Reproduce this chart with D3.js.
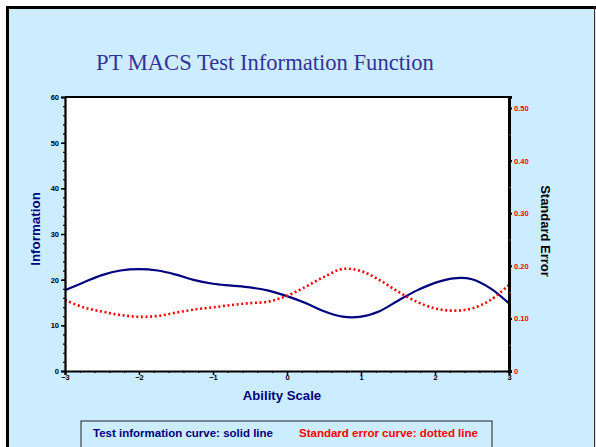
<!DOCTYPE html>
<html>
<head>
<meta charset="utf-8">
<script src="https://cdn.jsdelivr.net/npm/d3@7"></script>
<style>
  body { margin: 0; background: #fff; }
  svg { display: block; }
  text { font-family: "Liberation Sans", Arial, sans-serif; }
</style>
</head>
<body>
<svg id="chart" width="596" height="447"></svg>
<script>
const ability = [-3, -2.75, -2.5, -2.25, -2, -1.75, -1.5, -1.25, -1, -0.75, -0.5, -0.25,
  0, 0.25, 0.5, 0.75, 1, 1.25, 1.5, 1.75, 2, 2.25, 2.5, 2.75, 3];

// test information (left axis)
const information = [17.7, 19.4, 21.0, 22.0, 22.3, 22.0, 21.1, 19.9, 19.1, 18.7, 18.3, 17.6,
  16.4, 14.9, 13.1, 11.9, 11.9, 13.1, 15.4, 17.6, 19.3, 20.3, 20.1, 18.1, 14.8];

// standard error (right axis)
const stdError = [0.135, 0.121, 0.113, 0.1065, 0.103, 0.1045, 0.111, 0.117, 0.121, 0.1255, 0.129, 0.132,
  0.143, 0.160, 0.179, 0.194, 0.190, 0.173, 0.151, 0.132, 0.119, 0.1147, 0.119, 0.135, 0.1635];

const xTicks = [-3, -2, -1, 0, 1, 2, 3];
const infoTicks = [0, 10, 20, 30, 40, 50, 60];
const seTicks = [0, 0.1, 0.2, 0.3, 0.4, 0.5];

const svg = d3.select("#chart");

// slide background + frame
svg.append("rect").attr("x", 6).attr("y", 6).attr("width", 590).attr("height", 441).attr("fill", "#ccecff");
svg.append("line").attr("x1", 6).attr("x2", 596).attr("y1", 7.5).attr("y2", 7.5).attr("stroke", "#000").attr("stroke-width", 3);
svg.append("line").attr("x1", 7.5).attr("x2", 7.5).attr("y1", 6).attr("y2", 447).attr("stroke", "#000").attr("stroke-width", 3);
svg.append("line").attr("x1", 594.5).attr("x2", 594.5).attr("y1", 6).attr("y2", 447).attr("stroke", "#333").attr("stroke-width", 1);

// title
svg.append("text")
  .attr("x", 265).attr("y", 70)
  .attr("text-anchor", "middle")
  .style("font-family", "'Liberation Serif', 'Times New Roman', serif")
  .style("font-size", "22.6px")
  .attr("fill", "#333399")
  .text("PT MACS Test Information Function");

const plot = { left: 65, right: 509, top: 97, bottom: 371 };

let x = d3.scaleLinear().domain([-3, 3]).range([plot.left, plot.right]);
let yInfo = d3.scaleLinear().domain([0, 60]).range([plot.bottom, plot.top]);
let ySE = d3.scaleLinear().domain([0, 0.521]).range([plot.bottom, plot.top]);

svg.append("rect")
  .attr("x", plot.left).attr("y", plot.top)
  .attr("width", plot.right - plot.left).attr("height", plot.bottom - plot.top)
  .attr("fill", "#fff");

// curves
const infoLine = d3.line()
  .x((d, i) => x(ability[i]))
  .y(d => yInfo(d))
  .curve(d3.curveCatmullRom);

const seLine = d3.line()
  .x((d, i) => x(ability[i]))
  .y(d => ySE(d))
  .curve(d3.curveCatmullRom);

svg.append("path")
  .attr("d", infoLine(information))
  .attr("fill", "none")
  .attr("stroke", "#000080")
  .attr("stroke-width", 2.2);

svg.append("path")
  .attr("d", seLine(stdError))
  .attr("fill", "none")
  .attr("stroke", "#ff0000")
  .attr("stroke-width", 2.6)
  .attr("stroke-dasharray", "2,2.6");

// frame of plot area
svg.append("line").attr("x1", plot.left).attr("x2", plot.right).attr("y1", plot.top).attr("y2", plot.top)
  .attr("stroke", "#000").attr("stroke-width", 2);

// left axis
let leftAxis = d3.axisLeft(yInfo).tickValues(infoTicks).tickSize(4).tickFormat(d3.format("d"));
let gLeft = svg.append("g").attr("transform", `translate(${plot.left},0)`).call(leftAxis);
gLeft.select(".domain").attr("stroke-width", 2.2);
gLeft.selectAll(".tick line").attr("stroke-width", 1.5);
gLeft.selectAll("text").style("font-size", "7.5px").style("font-weight", "bold").attr("x", -6);

svg.append("g").attr("transform", `translate(${plot.left},0)`)
  .call(d3.axisLeft(yInfo).tickValues(d3.range(0, 61, 2)).tickSize(2).tickFormat(""))
  .call(g => g.select(".domain").remove())
  .selectAll(".tick line").attr("stroke-width", 1.2);

// bottom axis
let bottomAxis = d3.axisBottom(x).tickValues(xTicks).tickSize(4).tickFormat(d3.format("d"));
let gBottom = svg.append("g").attr("transform", `translate(0,${plot.bottom})`).call(bottomAxis);
gBottom.select(".domain").attr("stroke-width", 2.2);
gBottom.selectAll(".tick line").attr("stroke-width", 1.5);
gBottom.selectAll("text").style("font-size", "7.5px").style("font-weight", "bold").attr("y", 4);

svg.append("g").attr("transform", `translate(0,${plot.bottom})`)
  .call(d3.axisBottom(x).tickValues(d3.range(-3, 3.01, 0.2)).tickSize(2).tickFormat(""))
  .call(g => g.select(".domain").remove())
  .selectAll(".tick line").attr("stroke-width", 1.2);

// right axis
let rightAxis = d3.axisRight(ySE).tickValues(seTicks).tickSize(3)
  .tickFormat(d => d === 0 ? "0" : d3.format(".2f")(d));
let gRight = svg.append("g").attr("transform", `translate(${plot.right},0)`).call(rightAxis);
gRight.select(".domain").attr("stroke-width", 3);
gRight.selectAll(".tick line").attr("stroke-width", 2);
gRight.selectAll("text").style("font-size", "7.5px").style("font-weight", "bold").attr("fill", "#ff0000").attr("x", 5);

svg.append("g").attr("transform", `translate(${plot.right},0)`)
  .call(d3.axisRight(ySE).tickValues(d3.range(0.05, 0.5, 0.1)).tickSize(2).tickFormat(""))
  .call(g => g.select(".domain").remove())
  .selectAll(".tick line").attr("stroke-width", 1).attr("stroke", "#555");

// axis titles
svg.append("text")
  .attr("transform", "translate(40,229) rotate(-90)")
  .attr("text-anchor", "middle")
  .style("font-size", "13.4px").style("font-weight", "bold")
  .attr("fill", "#000080")
  .text("Information");

svg.append("text")
  .attr("x", 282).attr("y", 400)
  .attr("text-anchor", "middle")
  .style("font-size", "13.2px").style("font-weight", "bold")
  .attr("fill", "#000080")
  .text("Ability Scale");

svg.append("text")
  .attr("transform", "translate(540.5,231) rotate(90)")
  .attr("text-anchor", "middle")
  .style("font-size", "13px").style("font-weight", "bold")
  .attr("fill", "#000")
  .text("Standard Error");

// legend box
svg.append("rect")
  .attr("x", 81).attr("y", 421).attr("width", 411).attr("height", 40)
  .attr("fill", "#ccecff").attr("stroke", "#222").attr("stroke-width", 1);

svg.append("text")
  .attr("x", 93).attr("y", 437)
  .style("font-size", "11.5px").style("font-weight", "bold")
  .attr("fill", "#000080")
  .text("Test information curve: solid line");

svg.append("text")
  .attr("x", 299).attr("y", 437)
  .style("font-size", "11.5px").style("font-weight", "bold")
  .attr("fill", "#ff0000")
  .text("Standard error curve: dotted line");
</script>
</body>
</html>
